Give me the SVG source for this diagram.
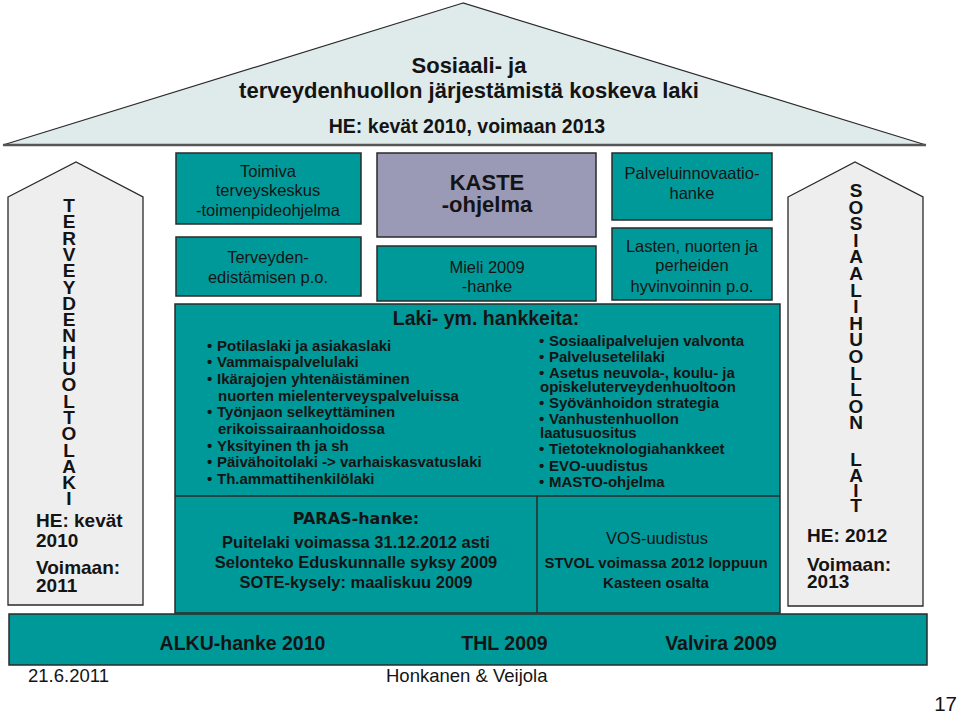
<svg xmlns="http://www.w3.org/2000/svg" width="960" height="714" viewBox="0 0 960 714">
<style>
text{font-family:"Liberation Sans",Arial,sans-serif;fill:#141414}
.b{font-weight:bold}
.box{fill:#009999;stroke:#2a2a2a;stroke-width:1.5}
.kaste{fill:#9a9ab6;stroke:#2a2a2a;stroke-width:1.5}
.pillar{fill:#eeeeee;stroke:#2a2a2a;stroke-width:1.3}
.r{font-size:16.5px;text-anchor:middle}
.li{font-size:15px;font-weight:bold}
.vl{font-size:19px;font-weight:bold;text-anchor:middle}
.pt{font-size:19px;font-weight:bold}
.bar{font-size:19.5px;font-weight:bold;text-anchor:middle}
</style>
<rect width="960" height="714" fill="#ffffff"/>
<g id="roof">
<polygon points="463,3 3,145 926,145" fill="#dfeaea" stroke="#2a2a2a" stroke-width="1.2"/>
<line x1="3" y1="145" x2="926" y2="145" stroke="#555" stroke-width="2.5"/>
<text x="469" y="73" class="b" font-size="22" text-anchor="middle">Sosiaali- ja</text>
<text x="469" y="98" class="b" font-size="22" text-anchor="middle">terveydenhuollon järjestämistä koskeva laki</text>
<text x="467" y="133" class="b" font-size="19.5" text-anchor="middle">HE: kevät 2010, voimaan 2013</text>
</g>
<g id="pillar-left">
<polygon class="pillar" points="8,197 76,162 143,197 143,605 8,605"/>
<text class="vl" x="69 69 69 69 69 69 69 69 69 69 69 69 69 69 69 69 69 69 69" y="212 228.3 244.6 260.9 277.2 293.5 309.8 326.1 342.4 358.7 375 391.3 407.6 423.9 440.2 456.5 472.8 489.1 505.4">TERVEYDENHUOLTOLAKI</text>
<text class="pt" x="36" y="527">HE: kevät</text>
<text class="pt" x="36" y="547">2010</text>
<text class="pt" x="36" y="574">Voimaan:</text>
<text class="pt" x="36" y="592">2011</text>
</g>
<g id="pillar-right">
<polygon class="pillar" points="788,197 855,162 923,197 923,606 788,606"/>
<text class="vl" x="856 856 856 856 856 856 856 856 856 856 856 856 856 856 856 856 856 856 856" y="197 213.6 230.2 246.8 263.4 280 296.6 313.2 329.8 346.4 363 379.6 396.2 412.8 429.4 466 481.5 497 512">SOSIAALIHUOLLONLAIT</text>
<text class="pt" x="807" y="542">HE: 2012</text>
<text class="pt" x="807" y="571">Voimaan:</text>
<text class="pt" x="807" y="588">2013</text>
</g>
<g id="toimiva">
<rect class="box" x="176" y="153" width="185" height="71"/>
<text class="r" x="268" y="177">Toimiva</text>
<text class="r" x="268" y="196">terveyskeskus</text>
<text class="r" x="268" y="216">-toimenpideohjelma</text>
</g>
<g id="terveyden">
<rect class="box" x="176" y="237" width="185" height="59"/>
<text class="r" x="268" y="263">Terveyden-</text>
<text class="r" x="268" y="283">edistämisen p.o.</text>
</g>
<g id="kaste">
<rect class="kaste" x="377" y="153" width="219" height="84"/>
<text x="487" y="190" class="b" font-size="22" text-anchor="middle">KASTE</text>
<text x="487" y="212" class="b" font-size="22" text-anchor="middle">-ohjelma</text>
</g>
<g id="mieli">
<rect class="box" x="377" y="246" width="219" height="55"/>
<text class="r" x="487" y="273">Mieli 2009</text>
<text class="r" x="487" y="292">-hanke</text>
</g>
<g id="palvelu">
<rect class="box" x="612" y="153" width="160" height="67"/>
<text class="r" x="692" y="179">Palveluinnovaatio-</text>
<text class="r" x="692" y="199">hanke</text>
</g>
<g id="lasten">
<rect class="box" x="612" y="228" width="160" height="72"/>
<text class="r" x="692" y="252">Lasten, nuorten ja</text>
<text class="r" x="692" y="271">perheiden</text>
<text class="r" x="692" y="292">hyvinvoinnin p.o.</text>
</g>
<g id="laki">
<rect class="box" x="175" y="304" width="605" height="309"/>
<line x1="175" y1="496" x2="780" y2="496" stroke="#2a2a2a" stroke-width="1.5"/>
<line x1="537" y1="496" x2="537" y2="613" stroke="#2a2a2a" stroke-width="1.5"/>
<text x="486" y="325" class="b" font-size="19.5" text-anchor="middle">Laki- ym. hankkeita:</text>
<g class="li">
<text x="207" y="350.5">•</text><text x="217" y="350.5">Potilaslaki ja asiakaslaki</text>
<text x="207" y="367">•</text><text x="217" y="367">Vammaispalvelulaki</text>
<text x="207" y="384">•</text><text x="217" y="384">Ikärajojen yhtenäistäminen</text>
<text x="218" y="400.5">nuorten mielenterveyspalveluissa</text>
<text x="207" y="417">•</text><text x="217" y="417">Työnjaon selkeyttäminen</text>
<text x="218" y="434">erikoissairaanhoidossa</text>
<text x="207" y="450.5">•</text><text x="217" y="450.5">Yksityinen th ja sh</text>
<text x="207" y="467">•</text><text x="217" y="467">Päivähoitolaki -&gt; varhaiskasvatuslaki</text>
<text x="207" y="484">•</text><text x="217" y="484">Th.ammattihenkilölaki</text>
</g>
<g class="li">
<text x="539" y="345.5">•</text><text x="549" y="345.5">Sosiaalipalvelujen valvonta</text>
<text x="539" y="362">•</text><text x="549" y="362">Palvelusetelilaki</text>
<text x="539" y="377.5">•</text><text x="549" y="377.5">Asetus neuvola-, koulu- ja</text>
<text x="540" y="392">opiskeluterveydenhuoltoon</text>
<text x="539" y="408">•</text><text x="549" y="408">Syövänhoidon strategia</text>
<text x="539" y="423.5">•</text><text x="549" y="423.5">Vanhustenhuollon</text>
<text x="540" y="437.5">laatusuositus</text>
<text x="539" y="454">•</text><text x="549" y="454">Tietoteknologiahankkeet</text>
<text x="539" y="470.5">•</text><text x="549" y="470.5">EVO-uudistus</text>
<text x="539" y="487">•</text><text x="549" y="487">MASTO-ohjelma</text>
</g>
</g>
<g id="paras">
<text x="356" y="524" font-size="16" font-weight="bold" text-anchor="middle" style="font-family:'DejaVu Sans',sans-serif">PARAS-hanke:</text>
<text x="356" y="548" class="b" font-size="16.5" text-anchor="middle">Puitelaki voimassa 31.12.2012 asti</text>
<text x="356" y="568" class="b" font-size="16.5" text-anchor="middle">Selonteko Eduskunnalle syksy 2009</text>
<text x="356" y="588" class="b" font-size="16.5" text-anchor="middle">SOTE-kysely: maaliskuu 2009</text>
</g>
<g id="vos">
<text x="657" y="544" font-size="16.5" text-anchor="middle">VOS-uudistus</text>
<text x="656" y="568" class="b" font-size="15" text-anchor="middle">STVOL voimassa 2012 loppuun</text>
<text x="656" y="588" class="b" font-size="15" text-anchor="middle">Kasteen osalta</text>
</g>
<g id="bottom-bar">
<rect class="box" x="9" y="614" width="918" height="51"/>
<text class="bar" x="242.5" y="650">ALKU-hanke 2010</text>
<text class="bar" x="504.5" y="650">THL 2009</text>
<text class="bar" x="721" y="650">Valvira 2009</text>
</g>
<g id="connectors"></g>
<g id="footer">
<text x="28" y="682" font-size="18.5">21.6.2011</text>
<text x="386" y="682" font-size="18.5">Honkanen &amp; Veijola</text>
<text x="957" y="711" font-size="20.5" text-anchor="end">17</text>
</g>
</svg>
